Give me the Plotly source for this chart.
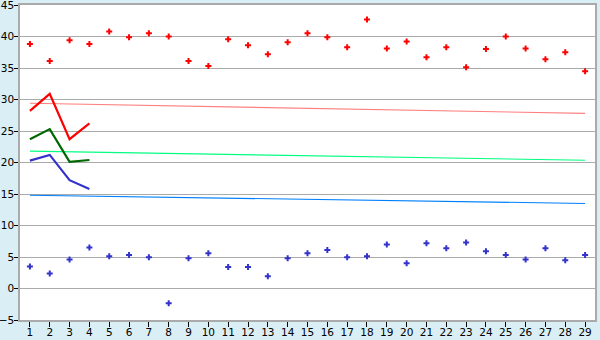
import plotly.graph_objects as go

x_days = list(range(1, 30))
red_points = [38.8, 36.1, 39.4, 38.8, 40.8, 39.9, 40.5, 40.0, 36.1, 35.3,
              39.55, 38.6, 37.2, 39.1, 40.5, 39.9, 38.3, 42.7, 38.1, 39.2,
              36.7, 38.3, 35.1, 38.0, 40.0, 38.1, 36.4, 37.5, 34.5]
blue_points = [3.5, 2.4, 4.6, 6.5, 5.1, 5.3, 4.95, -2.35, 4.8, 5.6,
               3.4, 3.4, 1.95, 4.8, 5.6, 6.1, 4.95, 5.1, 7.0, 4.0,
               7.2, 6.4, 7.3, 5.9, 5.3, 4.6, 6.4, 4.5, 5.3]
x_short = [1, 2, 3, 4]
red_line = [28.2, 30.9, 23.7, 26.2]
green_line = [23.7, 25.3, 20.1, 20.4]
blue_line = [20.3, 21.2, 17.2, 15.8]
trend_x = [1, 29]
red_trend = [29.4, 27.8]
green_trend = [21.8, 20.35]
blue_trend = [14.8, 13.5]
y_ticks = list(range(-5, 50, 5))
y_labels = ["\u22125", "0", "5", "10", "15", "20", "25", "30", "35", "40", "45"]

fig = go.Figure()
fig.add_trace(go.Scatter(x=trend_x, y=red_trend, mode="lines",
                         line=dict(color="#FF8080", width=1.1)))
fig.add_trace(go.Scatter(x=trend_x, y=green_trend, mode="lines",
                         line=dict(color="#00FF80", width=1.1)))
fig.add_trace(go.Scatter(x=trend_x, y=blue_trend, mode="lines",
                         line=dict(color="#0080FF", width=1.1)))
fig.add_trace(go.Scatter(x=x_short, y=red_line, mode="lines",
                         line=dict(color="#FF0000", width=2.2)))
fig.add_trace(go.Scatter(x=x_short, y=green_line, mode="lines",
                         line=dict(color="#006600", width=2.2)))
fig.add_trace(go.Scatter(x=x_short, y=blue_line, mode="lines",
                         line=dict(color="#3333CC", width=2.2)))
fig.add_trace(go.Scatter(x=x_days, y=red_points, mode="markers",
                         marker=dict(symbol="cross", size=5, color="#FF0000",
                                     line=dict(width=0))))
fig.add_trace(go.Scatter(x=x_days, y=blue_points, mode="markers",
                         marker=dict(symbol="cross", size=5, color="#3333CC",
                                     line=dict(width=0))))

fig.update_layout(
    width=600, height=340,
    margin=dict(l=20, r=5, t=5, b=20),
    paper_bgcolor="#DAEEF5",
    plot_bgcolor="#FFFFFF",
    showlegend=False,
    font=dict(family="DejaVu Sans", size=10.5, color="#000000"),
)
fig.update_xaxes(
    range=[0.5, 29.5], tickmode="array", tickvals=x_days,
    ticktext=[str(v) for v in x_days], automargin=False,
    ticklabelstandoff=-3, ticklabeloverflow="allow",
    showgrid=False, zeroline=False,
    showline=True, linecolor="#AAAAAA", linewidth=1.5, mirror=True,
    ticks="outside", ticklen=5, tickcolor="#000000", tickwidth=1,
)
fig.update_yaxes(
    range=[-5, 45], tickmode="array", tickvals=y_ticks,
    ticktext=y_labels, automargin=False,
    ticklabelstandoff=-2, ticklabeloverflow="allow",
    showgrid=True, gridcolor="#AAAAAA", gridwidth=1.2, zeroline=False,
    showline=True, linecolor="#AAAAAA", linewidth=1.5, mirror=True,
    ticks="outside", ticklen=4, tickcolor="#000000", tickwidth=1,
)

fig.write_html("out.html")
